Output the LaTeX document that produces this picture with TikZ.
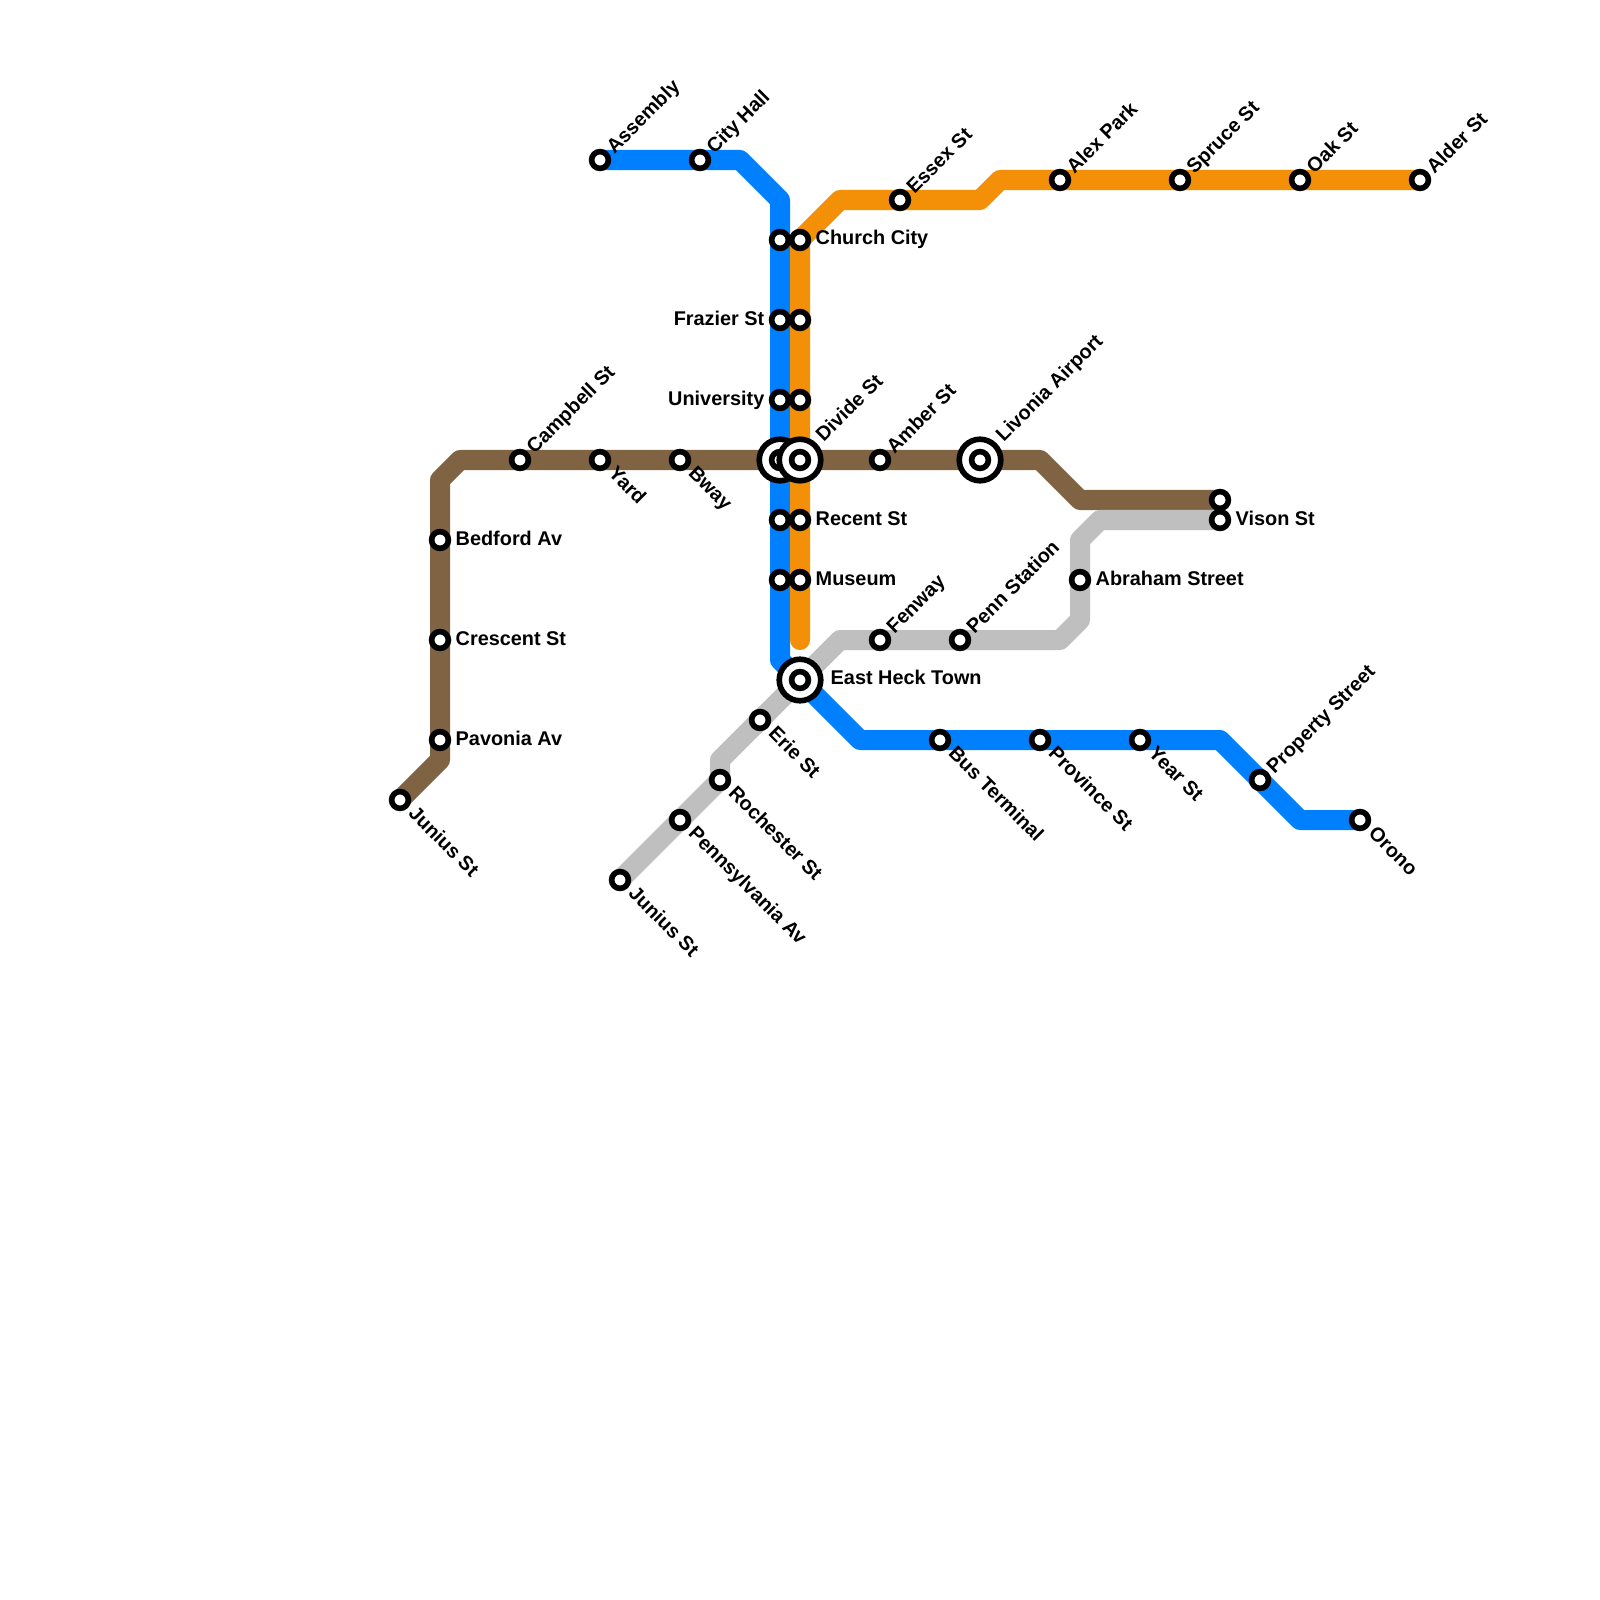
\documentclass[tikz,border=0pt]{standalone}
\usepackage{fontspec}
\setmainfont{Liberation Sans}
\usetikzlibrary{backgrounds}
\definecolor{lineblue}{HTML}{0080FF}
\definecolor{lineorange}{HTML}{F39007}
\definecolor{linebrown}{HTML}{7F6342}
\definecolor{linegray}{HTML}{BFBFBF}

\begin{document}
\begin{tikzpicture}[x=0.01cm,y=-0.01cm,
  every node/.style={font=\bfseries\fontsize{5.65pt}{7pt}\selectfont},
  stn/.style={circle,draw=black,fill=white,line width=1.6pt,inner sep=0pt,minimum size=0.168cm},
  bigstn/.style={stn,minimum size=0.415cm},
  route/.style={line width=5.69pt,line join=round,line cap=round},
  nelab/.style={rotate=45,anchor=base west,inner sep=0pt,shift={(13.5,6.5)}},
  selab/.style={rotate=-45,anchor=base west,inner sep=0pt,shift={(15,5)}},
  elab/.style={anchor=base west,inner sep=0pt,shift={(15,5)}},
  wlab/.style={anchor=base east,inner sep=0pt,shift={(-15,5)}}]
  \useasboundingbox (0,0) rectangle (1600,1600);

  % bends of the routes, no station on them
  \foreach \nm/\px/\py in {
    ba/740/160,bb/780/200,bc/780/660,bd/860/740,be/1220/740,bf/1300/820,
    oa/1000/180,ob/980/200,oc/840/200,od/800/640,
    ua/440/760,ub/440/480,uc/460/460,ud/1040/460,ue/1080/500,
    ga/1100/520,gb/1080/540,gc/1080/620,gd/1060/640,ge/840/640,gf/720/760}
    \coordinate (\nm) at (\px,\py);

  % stations without a label
  \foreach \nm/\px/\py in {
    bchurch/780/240,ofrazier/800/320,ouniversity/800/400,
    brecent/780/520,bmuseum/780/580,uvison/1220/500}
    \node[stn] (\nm) at (\px,\py) {};

  % stations with a label
  \foreach \nm/\px/\py/\lab/\kind in {
    assembly/600/160/Assembly/nelab,cityhall/700/160/City Hall/nelab,
    essex/900/200/Essex St/nelab,alex/1060/180/Alex Park/nelab,
    spruce/1180/180/Spruce St/nelab,oak/1300/180/Oak St/nelab,
    alder/1420/180/Alder St/nelab,campbell/520/460/Campbell St/nelab,
    amber/880/460/Amber St/nelab,fenway/880/640/Fenway/nelab,
    penn/960/640/Penn Station/nelab,property/1260/780/Property Street/nelab,
    juniusw/400/800/Junius St/selab,yard/600/460/Yard/selab,
    bway/680/460/Bway/selab,erie/760/720/Erie St/selab,
    rochester/720/780/Rochester St/selab,pennav/680/820/Pennsylvania Av/selab,
    juniuss/620/880/Junius St/selab,busterm/940/740/Bus Terminal/selab,
    province/1040/740/Province St/selab,year/1140/740/Year St/selab,
    orono/1360/820/Orono/selab,
    ochurch/800/240/Church City/elab,orecent/800/520/Recent St/elab,
    omuseum/800/580/Museum/elab,bedford/440/540/Bedford Av/elab,
    crescent/440/640/Crescent St/elab,pavonia/440/740/Pavonia Av/elab,
    abraham/1080/580/Abraham Street/elab,gvison/1220/520/Vison St/elab,
    bfrazier/780/320/Frazier St/wlab,buniversity/780/400/University/wlab}
  {
    \node[stn] (\nm) at (\px,\py) {};
    \node[\kind] (\nm-lab) at (\nm) {\lab};
  }

  % interchanges, the orange one lies over the blue one
  \node[bigstn] (bdivide) at (780,460) {};
  \node[stn] (bdivide-in) at (bdivide) {};
  \node[bigstn] (odivide) at (800,460) {};
  \node[stn] (odivide-in) at (odivide) {};
  \node[nelab,shift={(15,-2)}] (odivide-lab) at (odivide) {Divide St};
  \node[bigstn] (livonia) at (980,460) {};
  \node[stn] (livonia-in) at (livonia) {};
  \node[nelab,shift={(15,-2)}] (livonia-lab) at (livonia) {Livonia Airport};
  \node[bigstn] (eastheck) at (800,680) {};
  \node[stn] (eastheck-in) at (eastheck) {};
  \node[elab,shift={(15,-1)}] (eastheck-lab) at (eastheck) {East Heck Town};

  \begin{scope}[on background layer]
    \draw[route,lineblue] (assembly.center) -- (cityhall.center) -- (ba) -- (bb)
      -- (bchurch.center) -- (bfrazier.center) -- (buniversity.center)
      -- (bdivide.center) -- (brecent.center) -- (bmuseum.center) -- (bc)
      -- (eastheck.center) -- (bd) -- (busterm.center) -- (province.center)
      -- (year.center) -- (be) -- (property.center) -- (bf) -- (orono.center);
    \draw[route,lineorange] (alder.center) -- (oak.center) -- (spruce.center)
      -- (alex.center) -- (oa) -- (ob) -- (essex.center) -- (oc)
      -- (ochurch.center) -- (ofrazier.center) -- (ouniversity.center)
      -- (odivide.center) -- (orecent.center) -- (omuseum.center) -- (od);
    \draw[route,linebrown] (juniusw.center) -- (ua) -- (pavonia.center)
      -- (crescent.center) -- (bedford.center) -- (ub) -- (uc)
      -- (campbell.center) -- (yard.center) -- (bway.center)
      -- (bdivide.center) -- (odivide.center) -- (amber.center)
      -- (livonia.center) -- (ud) -- (ue) -- (uvison.center);
    \draw[route,linegray] (gvison.center) -- (ga) -- (gb) -- (abraham.center)
      -- (gc) -- (gd) -- (penn.center) -- (fenway.center) -- (ge)
      -- (eastheck.center) -- (erie.center) -- (gf) -- (rochester.center)
      -- (pennav.center) -- (juniuss.center);
  \end{scope}
\end{tikzpicture}
\end{document}
